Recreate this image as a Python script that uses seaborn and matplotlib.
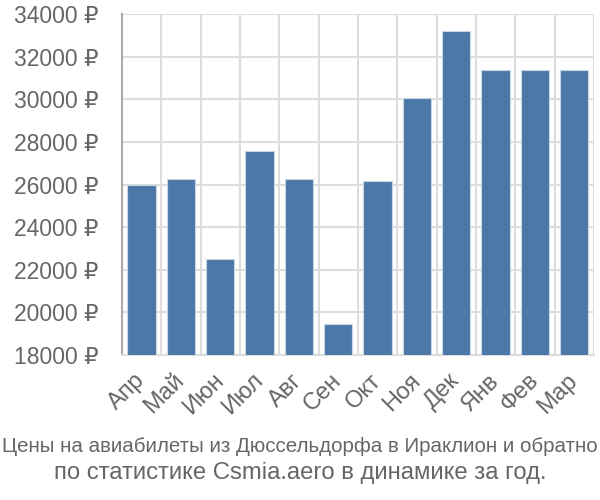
import matplotlib
matplotlib.use("Agg")
import matplotlib.pyplot as plt
import seaborn as sns
import pandas as pd
import numpy as np
from matplotlib.ticker import FixedLocator
from matplotlib import font_manager

months = ["Апр", "Май", "Июн", "Июл", "Авг", "Сен", "Окт", "Ноя", "Дек", "Янв", "Фев", "Мар"]
prices = [25980, 26260, 22490, 27560, 26260, 19440, 26170, 30050, 33200, 31350, 31350, 31350]
yticks = [18000, 20000, 22000, 24000, 26000, 28000, 30000, 32000, 34000]
title_line1 = "Цены на авиабилеты из Дюссельдорфа в Ираклион и обратно"
title_line2 = "по статистике Csmia.aero в динамике за год."

sns.set_style("white")
plt.rcParams['font.family'] = ['Liberation Sans', 'DejaVu Sans']

# look strictly for Liberation Sans Narrow (regular) for the long first title line
narrow_file = None
for f in font_manager.fontManager.ttflist:
    if f.name == "Liberation Sans Narrow" and f.style == "normal" and f.weight in (400, "normal", "regular"):
        narrow_file = f.fname
        break

df = pd.DataFrame({"month": months, "price": prices})

fig = plt.figure(figsize=(6, 5), dpi=100)
ax = fig.add_axes([0.203, 0.29, 0.787, 0.682])

sns.barplot(data=df, x="month", y="price", color="#4c78a8", saturation=1,
            width=0.72, edgecolor="#c8d6e8", linewidth=0.8, ax=ax, zorder=3)

ax.set_ylim(18000, 34000)
ax.set_xlim(-0.5, len(months) - 0.5)
ax.set_yticks(yticks)
ax.set_yticklabels([f"{v} ₽" for v in yticks])
ax.xaxis.set_minor_locator(FixedLocator(np.arange(-0.5, len(months), 1.0)))
ax.tick_params(axis="x", which="major", length=0, pad=16, labelsize=17, labelcolor="#666666")
ax.tick_params(axis="x", which="minor", length=18, color="#dddddd", width=1.5)
ax.tick_params(axis="y", which="major", length=20, color="#dddddd", width=1.5, pad=-3,
               labelsize=16.5, labelcolor="#666666")
for lab in ax.get_xticklabels():
    lab.set_rotation(45)
    lab.set_ha("right")
    lab.set_va("center")
    lab.set_rotation_mode("anchor")

ax.grid(True, axis="y", color="#dddddd", linewidth=1.5, zorder=0)
ax.grid(True, axis="x", which="minor", color="#dddddd", linewidth=1.5, zorder=0)
ax.set_axisbelow(True)
for s in ["top", "right"]:
    ax.spines[s].set_visible(False)
ax.spines["left"].set_color("#aaaaaa")
ax.spines["left"].set_linewidth(1.5)
ax.spines["bottom"].set_color("#dddddd")
ax.spines["bottom"].set_linewidth(1.5)
ax.set_xlabel("")
ax.set_ylabel("")

t1 = fig.text(0.5, 0.106, title_line1, ha="center", va="center", fontsize=17.2,
              color="#666666")
if narrow_file is not None:
    t1.set_fontproperties(font_manager.FontProperties(fname=narrow_file, size=17.2))
fig.text(0.5, 0.053, title_line2, ha="center", va="center", fontsize=17.2,
         color="#666666")

# shrink the first line only if it does not fit
fig.canvas.draw()
r = fig.canvas.get_renderer()
w = t1.get_window_extent(r).width
if w > 594:
    t1.set_fontsize(t1.get_fontsize() * 594 / w)

fig.savefig("out.png", dpi=100)
